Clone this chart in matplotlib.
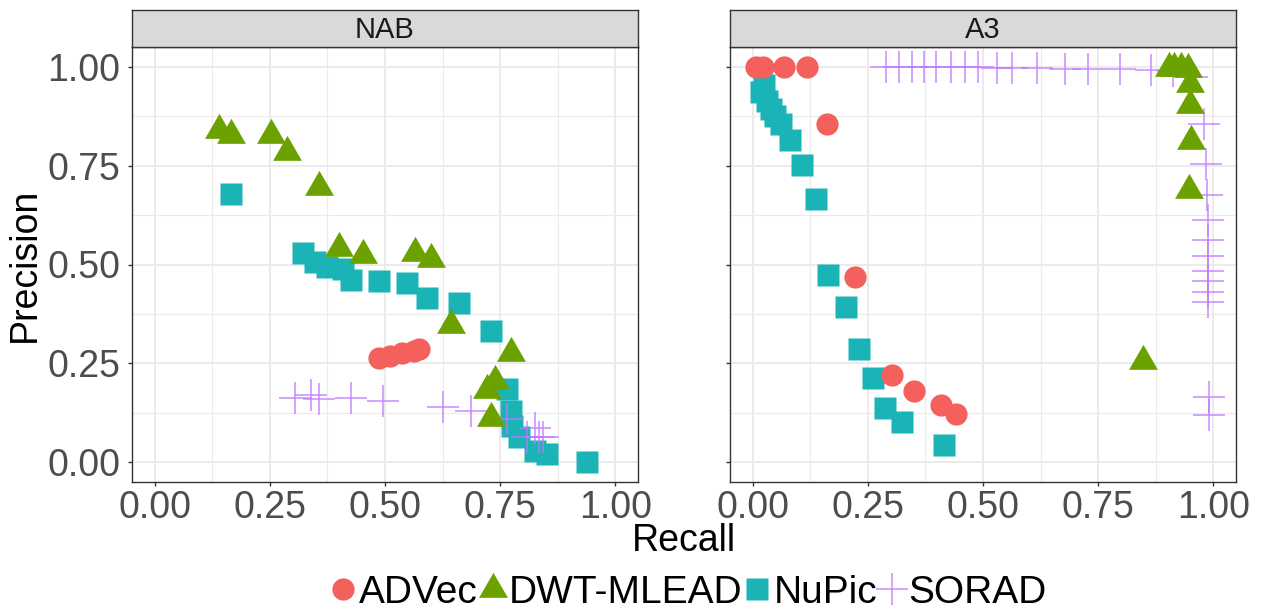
import matplotlib.pyplot as plt
from matplotlib.lines import Line2D
import numpy as np

plt.rcParams['font.family'] = ['Liberation Sans', 'DejaVu Sans']

# Precision / recall points per method, NAB benchmark
nab_advec_recall = [0.486, 0.511, 0.537, 0.563, 0.574]
nab_advec_precision = [0.263, 0.268, 0.275, 0.281, 0.285]

nab_dwt_recall = [0.139, 0.165, 0.252, 0.287, 0.357, 0.400, 0.452, 0.565, 0.600,
                  0.643, 0.774, 0.738, 0.722, 0.730]
nab_dwt_precision = [0.841, 0.827, 0.829, 0.785, 0.695, 0.541, 0.525, 0.528, 0.515,
                     0.347, 0.275, 0.206, 0.183, 0.112]

nab_nupic_recall = [0.165, 0.321, 0.347, 0.374, 0.408, 0.426, 0.487, 0.548, 0.591,
                    0.661, 0.730, 0.765, 0.773, 0.776, 0.792, 0.826, 0.852, 0.939]
nab_nupic_precision = [0.678, 0.528, 0.506, 0.493, 0.488, 0.462, 0.458, 0.453, 0.414,
                       0.402, 0.332, 0.186, 0.130, 0.090, 0.063, 0.029, 0.020, 0.0]

nab_sorad_recall = [0.304, 0.339, 0.356, 0.426, 0.496, 0.626, 0.687, 0.765, 0.809,
                    0.826, 0.835, 0.843]
nab_sorad_precision = [0.162, 0.170, 0.160, 0.162, 0.154, 0.138, 0.130, 0.110, 0.063,
                       0.086, 0.062, 0.062]

# Yahoo A3 benchmark
a3_advec_recall = [0.008, 0.023, 0.067, 0.118, 0.162, 0.223, 0.303, 0.350, 0.408, 0.441]
a3_advec_precision = [1.0, 1.0, 1.0, 1.0, 0.857, 0.468, 0.221, 0.179, 0.145, 0.122]

a3_dwt_recall = [0.905, 0.916, 0.930, 0.945, 0.950, 0.950, 0.951, 0.948, 0.848]
a3_dwt_precision = [0.997, 0.997, 0.997, 0.995, 0.958, 0.905, 0.812, 0.689, 0.255]

a3_nupic_recall = [0.017, 0.024, 0.030, 0.040, 0.048, 0.062, 0.082, 0.107, 0.137,
                   0.163, 0.202, 0.230, 0.262, 0.288, 0.324, 0.416]
a3_nupic_precision = [0.936, 0.955, 0.915, 0.895, 0.875, 0.856, 0.814, 0.752, 0.666,
                      0.474, 0.392, 0.285, 0.212, 0.137, 0.101, 0.043]

a3_sorad_recall = [0.290, 0.318, 0.345, 0.372, 0.397, 0.430, 0.462, 0.489, 0.530,
                   0.564, 0.618, 0.679, 0.728, 0.798, 0.864, 0.913, 0.955,
                   0.981, 0.985, 0.986, 0.988, 0.989, 0.989, 0.989, 0.989, 0.989,
                   0.989, 0.990, 0.991]
a3_sorad_precision = [1.0, 1.0, 1.0, 1.0, 1.0, 1.0, 0.999, 0.999, 0.998,
                      0.998, 0.997, 0.996, 0.995, 0.994, 0.993, 0.99, 0.975,
                      0.855, 0.755, 0.677, 0.612, 0.563, 0.521, 0.484, 0.457, 0.430,
                      0.404, 0.164, 0.119]

panels = ['NAB', 'A3']
methods = ['ADVec', 'DWT-MLEAD', 'NuPic', 'SORAD']
ticks = [0.0, 0.25, 0.5, 0.75, 1.0]
tick_labels = ['0.00', '0.25', '0.50', '0.75', '1.00']

data = {
    'NAB': {
        'ADVec': (nab_advec_recall, nab_advec_precision),
        'DWT-MLEAD': (nab_dwt_recall, nab_dwt_precision),
        'NuPic': (nab_nupic_recall, nab_nupic_precision),
        'SORAD': (nab_sorad_recall, nab_sorad_precision),
    },
    'A3': {
        'ADVec': (a3_advec_recall, a3_advec_precision),
        'DWT-MLEAD': (a3_dwt_recall, a3_dwt_precision),
        'NuPic': (a3_nupic_recall, a3_nupic_precision),
        'SORAD': (a3_sorad_recall, a3_sorad_precision),
    },
}

# triangle with its centroid on the data point (like R's pch 17)
triangle = [(0, 1), (-0.866, -0.5), (0.866, -0.5), (0, 1)]

style = {
    'ADVec': dict(marker='o', color='#F4605B', ms=16, mec='none', zorder=5),
    'DWT-MLEAD': dict(marker=triangle, color='#6BA200', ms=24, mec='none', zorder=4),
    'NuPic': dict(marker='s', color='#1AB3B6', ms=16, mec='none', zorder=2),
    'SORAD': dict(marker='+', color='#C077FF', ms=23, mew=1.1, alpha=0.85, zorder=3),
}

W, H = 1261, 611
fig = plt.figure(figsize=(W / 100, H / 100), dpi=100)

axes_left = [131.7, 729.7]
axes_width = 506.5
axes_top, axes_bottom = 47.3, 481.7
strip_top = 10

for name, left in zip(panels, axes_left):
    ax = fig.add_axes([left / W, 1 - axes_bottom / H, axes_width / W,
                       (axes_bottom - axes_top) / H])
    for m in methods:
        r, p = data[name][m]
        ax.plot(r, p, linestyle='none', **style[m])

    ax.set_xlim(-0.05, 1.05)
    ax.set_ylim(-0.05, 1.05)
    ax.set_xticks(ticks)
    ax.set_yticks(ticks)
    ax.set_xticks([0.125, 0.375, 0.625, 0.875], minor=True)
    ax.set_yticks([0.125, 0.375, 0.625, 0.875], minor=True)
    ax.set_xticklabels(tick_labels)
    ax.set_yticklabels(tick_labels if name == 'NAB' else [])
    ax.grid(which='major', color='#EBEBEB', linewidth=1.4, zorder=0)
    ax.grid(which='minor', color='#EBEBEB', linewidth=0.8, zorder=0)
    ax.set_axisbelow(True)
    ax.tick_params(which='major', length=3, width=1.0, color='#333333',
                   labelsize=27, labelcolor='#4D4D4D', pad=3)
    ax.tick_params(axis='y', pad=5)
    ax.tick_params(which='minor', length=0)
    for s in ax.spines.values():
        s.set_color('#333333')
        s.set_linewidth(1.0)

    # facet strip
    sax = fig.add_axes([left / W, 1 - axes_top / H, axes_width / W,
                        (axes_top - strip_top) / H])
    sax.set_facecolor('#D9D9D9')
    sax.set_xticks([])
    sax.set_yticks([])
    for s in sax.spines.values():
        s.set_color('#333333')
        s.set_linewidth(1.0)
    sax.text(0.5, 0.47, name, ha='center', va='center', fontsize=21,
             color='#1A1A1A', transform=sax.transAxes)

fig.text(25 / W, 1 - 265 / H, 'Precision', rotation=90, ha='center', va='center',
         fontsize=27, color='black')
fig.text(684 / W, 1 - 541 / H, 'Recall', ha='center', va='center',
         fontsize=27, color='black')

handles = []
for m in methods:
    st = dict(style[m])
    st.pop('zorder')
    handles.append(Line2D([], [], linestyle='none', **st))

fig.legend(handles, methods, loc='center', bbox_to_anchor=(688 / W, 1 - 593 / H),
           ncol=4, frameon=False, fontsize=28, handlelength=0.7,
           handletextpad=0.08, columnspacing=0.02, borderaxespad=0, borderpad=0)

fig.savefig('out.png', dpi=100)
